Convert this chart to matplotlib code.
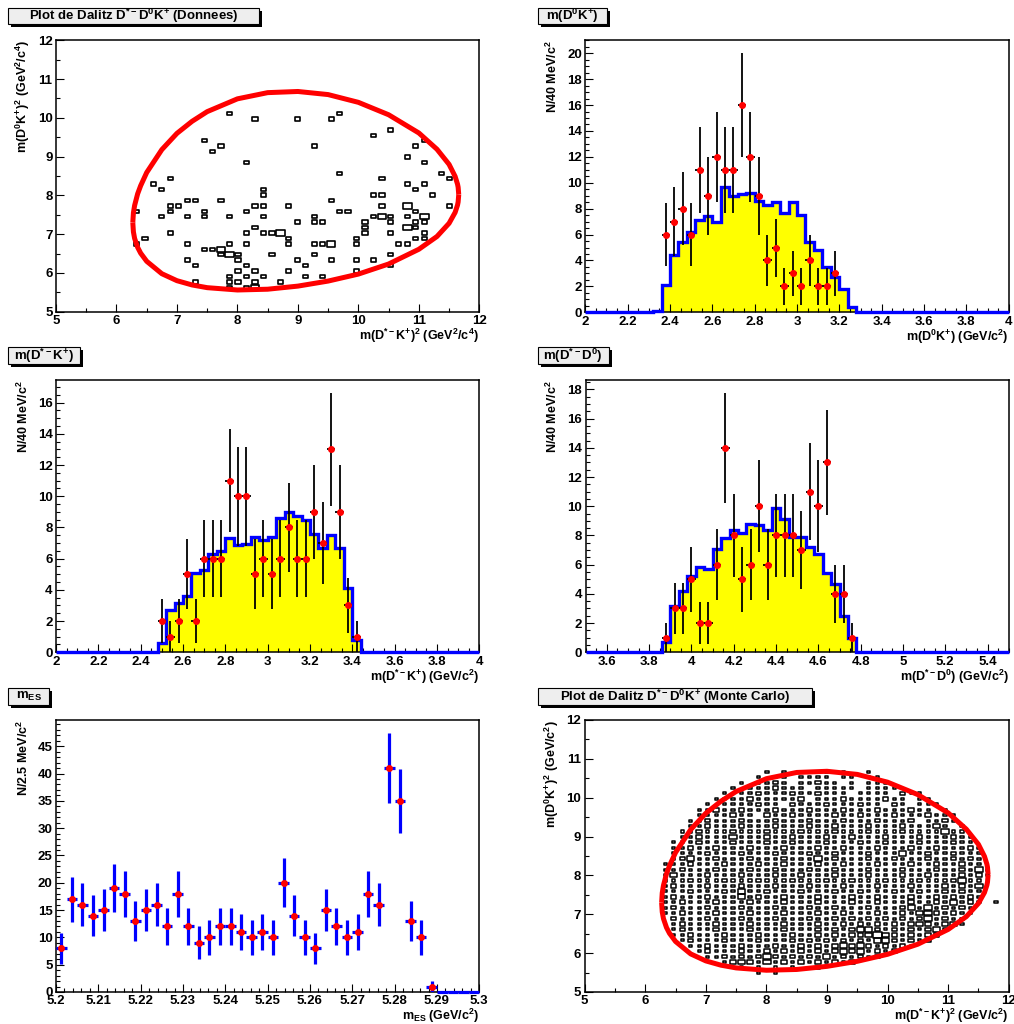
import numpy as np
import matplotlib
matplotlib.use('Agg')
import matplotlib.pyplot as plt
from matplotlib.patches import Rectangle
from matplotlib.collections import PatchCollection
from matplotlib.ticker import MultipleLocator, FuncFormatter

plt.rcParams['font.family'] = ['Liberation Sans', 'DejaVu Sans']
plt.rcParams['font.weight'] = 'bold'
plt.rcParams['mathtext.fontset'] = 'custom'
plt.rcParams['mathtext.rm'] = 'Liberation Sans:bold'
plt.rcParams['mathtext.it'] = 'Liberation Sans:bold'
plt.rcParams['mathtext.bf'] = 'Liberation Sans:bold'
plt.rcParams['mathtext.default'] = 'rm'

# ---- Dalitz boundary (m(D*-K+)^2, upper / lower m(D0K+)^2)
bnd_x = [6.27, 6.28, 6.30, 6.35, 6.40, 6.50, 6.75, 7.0, 7.25, 7.5, 8.0, 8.5, 9.0,
         9.5, 10.0, 10.5, 11.0, 11.3, 11.5, 11.6, 11.64, 11.65, 11.66]
bnd_top = [7.30, 7.55, 7.74, 8.04, 8.25, 8.59, 9.18, 9.60, 9.91, 10.16, 10.49, 10.65, 10.68,
           10.60, 10.40, 10.08, 9.61, 9.19, 8.80, 8.49, 8.29, 8.21, 8.02]
bnd_bot = [7.30, 7.06, 6.89, 6.66, 6.51, 6.30, 5.98, 5.80, 5.69, 5.62, 5.56, 5.58, 5.66,
           5.79, 5.97, 6.23, 6.61, 6.94, 7.28, 7.56, 7.75, 7.83, 8.02]

# ---- Dalitz data (bin centres, entries)
don_x = [7.87, 9.69,
         8.29, 8.99, 9.55,
         10.53, 10.25,
         7.45, 11.09,
         7.73, 9.27, 10.95,
         7.59, 10.81,
         8.15, 11.09,
         9.69, 11.37,
         6.89, 10.39, 11.51,
         6.61, 10.81, 11.09,
         6.75, 8.43, 10.95,
         8.43, 10.25, 10.39, 11.23,
         7.17, 7.31, 7.73, 9.55,
         6.89, 7.03, 8.29, 8.43, 8.85, 10.39, 10.81, 11.51,
         6.33, 6.89, 7.45, 8.15, 9.69, 9.83, 10.95,
         6.75, 7.17, 7.45, 7.87, 8.43, 9.27, 10.25, 10.39, 10.53, 10.81, 11.09,
         8.99, 9.27, 9.41, 10.11, 10.53, 10.95, 11.09,
         8.29, 10.11, 10.81, 10.95,
         6.89, 8.15, 8.43, 8.57, 8.71, 10.11, 10.53, 11.09,
         6.47, 8.85, 9.97, 10.95, 11.09,
         6.33, 7.17, 7.87, 8.15, 8.85, 9.27, 9.41, 9.55, 9.97, 10.67, 10.81,
         7.45, 7.59, 7.73,
         7.73, 7.87, 8.01, 8.57, 9.27, 10.53,
         7.17, 8.01, 8.99, 9.55, 9.97, 10.25,
         7.31, 8.15, 9.13, 10.53,
         8.01, 8.29, 8.85, 9.97,
         7.87, 8.15, 8.43, 9.13, 9.41,
         7.31, 7.87, 8.01, 8.29, 8.71,
         7.87, 8.15, 8.29]
don_y = ([10.11] * 2 + [9.97] * 3 + [9.69] + [9.55] + [9.41] * 2 + [9.27] * 3 + [9.13, 8.99]
         + [8.85] * 2 + [8.57] * 2 + [8.43] * 3 + [8.29] * 3 + [8.15] * 3 + [8.01] * 4
         + [7.87] * 4 + [7.73] * 8 + [7.59] * 7 + [7.45] * 11 + [7.31] * 7 + [7.17] * 4
         + [7.03] * 8 + [6.89] * 5 + [6.75] * 11 + [6.61] * 3 + [6.47] * 6 + [6.33] * 6
         + [6.19] * 4 + [6.05] * 4 + [5.91] * 5 + [5.77] * 5 + [5.63] * 3)
don_two = [(10.81, 7.73), (10.39, 7.45), (11.09, 7.45), (10.81, 7.17), (8.71, 7.03),
           (9.55, 6.75), (7.73, 6.61), (7.87, 6.47), (8.29, 5.63)]

# ---- Dalitz Monte Carlo: one string per row, one char per 0.14 bin ('.'=empty)
mc_y = [10.67, 10.53, 10.39, 10.25, 10.11, 9.97, 9.83, 9.69, 9.55, 9.41, 9.27, 9.13,
        8.99, 8.85, 8.71, 8.57, 8.43, 8.29, 8.15, 8.01, 7.87, 7.73, 7.59, 7.45, 7.31,
        7.17, 7.03, 6.89, 6.75, 6.61, 6.47, 6.33, 6.19, 6.05, 5.91, 5.77, 5.63, 5.49]
mc_x0 = [8.01, 7.87, 7.59, 7.45, 7.31, 7.17, 7.03, 6.89, 6.89, 6.75, 6.75, 6.61,
         6.61, 6.47, 6.47, 6.47, 6.47, 6.33, 6.33, 6.33, 6.33, 6.33, 6.33, 6.33, 6.33,
         6.33, 6.33, 6.47, 6.47, 6.47, 6.47, 6.61, 6.75, 6.89, 7.03, 7.31, 7.59, 7.87]
mc_cells = [
    "1.1..1.1.1..1",
    "1.11.1111.11.11",
    "1.1121.11211.1.111",
    "1.1112111.11111.1111",
    "1.1121112112111.1111.211",
    "11112111112.11121111211.11",
    "1.1111211.21112111211.21.111",
    "1121121112111211121112111211.1",
    "1111211.21121111211211121112111",
    "112111211121112111211121112.1121",
    "1121112111211121121112111211131.1",
    "1121112111211121112111211121111311",
    "11211131112112111211211121112111211",
    "111211121112112111211121121112111211",
    "1121121112111211121121112111211211121",
    "1111211121112111211211121113112112111",
    "1231121112111211131211121121112112121",
    "11121112111211211121121112111211211211",
    "112111211121121112112111211121112112131",
    "131112111211121121112111211121121112121",
    "11121112111211121112112111211121112311.",
    "12111211121112111211121112111211121213",
    "11121112131121112111211211121121121211",
    "12111211131211211121112112111211212121",
    "11211121112111211121112112111211213121.1",
    "1211121112111211121121112111231312121",
    "1121112111211121112112111211213321211",
    "21112111211121112112121212121231211",
    "12111211121112111211212121212321231",
    "121112111211121112121233212121231",
    "11211121112111211212122343212122",
    "121112111211121212121213321212",
    "112111211121121212323212121",
    "121112112121212123231212",
    "112121232121213121212",
    "1232131212121212",
    "1.1.1.1..1",
    "1.1"]

# ---- 1D histograms (0.04 GeV bins, 50 bins); data counts, MC expectation
dk0_mc_lo = 2.32
dk0_mc = [0.1, 2.1, 4.4, 5.4, 6.2, 7.1, 7.4, 7.0, 9.7, 9.0, 9.15, 9.2, 8.6, 8.3, 8.5,
          7.7, 8.5, 7.5, 5.4, 4.8, 3.5, 2.7, 1.8, 0.4]
dk0_data_lo = 2.36
dk0_data = [6, 7, 8, 6, 11, 9, 12, 11, 11, 16, 12, 9, 4, 5, 2, 3, 2, 4, 2, 2, 3]

dstk_mc_lo = 2.48
dstk_mc = [0.6, 2.7, 3.15, 3.6, 5.1, 5.3, 6.3, 6.5, 7.35, 6.9, 6.95, 7.4, 7.2, 7.4,
           8.6, 9.0, 8.75, 8.5, 7.6, 6.7, 7.5, 6.7, 4.1, 0.8]
dstk_data_lo = 2.48
dstk_data = [2, 1, 2, 5, 2, 6, 6, 6, 11, 10, 10, 5, 6, 5, 6, 8, 6, 6, 9, 7, 13, 9, 3, 1]

dd0_mc_lo = 3.86
dd0_mc = [0.7, 3.2, 4.2, 5.2, 5.85, 5.7, 7.1, 7.8, 8.35, 8.15, 8.8, 8.75, 8.4, 9.85,
          9.1, 7.9, 7.9, 7.2, 6.7, 5.4, 4.7, 2.5, 1.0]
dd0_data_lo = 3.86
dd0_data = [1, 3, 3, 5, 2, 2, 6, 14, 8, 5, 6, 10, 6, 8, 8, 8, 7, 11, 10, 13, 4, 4, 1]

# ---- mES (2.5 MeV bins from 5.20 to 5.30)
mes_counts = [8, 17, 16, 14, 15, 19, 18, 13, 15, 16, 12, 18, 12, 9, 10, 12, 12, 11, 10, 11,
              10, 20, 14, 10, 8, 15, 12, 10, 11, 18, 16, 41, 35, 13, 10, 1, 0, 0, 0, 0]

W, H = 1014, 1024
fig = plt.figure(figsize=(W / 100, H / 100), dpi=100)
fmt = FuncFormatter(lambda v, p: '%g' % round(v, 4))


def make_axes(l, t, r, b, xlim, ylim, xmaj, xmin, ymaj, ymin):
    ax = fig.add_axes([l / W, 1 - b / H, (r - l) / W, (b - t) / H])
    ax.set_xlim(*xlim)
    ax.set_ylim(*ylim)
    ax.xaxis.set_major_locator(MultipleLocator(xmaj))
    ax.xaxis.set_minor_locator(MultipleLocator(xmin))
    ax.yaxis.set_major_locator(MultipleLocator(ymaj))
    ax.yaxis.set_minor_locator(MultipleLocator(ymin))
    ax.xaxis.set_major_formatter(fmt)
    ax.yaxis.set_major_formatter(fmt)
    ax.tick_params(which='both', direction='in', top=False, right=False,
                   labelsize=9.5, width=0.8, pad=2.5)
    ax.tick_params(which='major', length=5.5)
    ax.tick_params(which='minor', length=2.8)
    for s in ax.spines.values():
        s.set_linewidth(1.1)
    ax._px = (r - l, b - t)
    return ax


def labels(ax, xl, yl):
    w, h = ax._px
    ax.text(1.0, -15 / h, xl, transform=ax.transAxes, ha='right', va='top', fontsize=9)
    ax.text(-33 / w, 1.0, yl, transform=ax.transAxes, ha='center', va='top',
            rotation=90, fontsize=9)


def title_box(l, t, r, b, txt):
    fig.patches.append(Rectangle(((l + 3) / W, 1 - (b + 3) / H), (r - l) / W, (b - t) / H,
                                 transform=fig.transFigure, fc='black', ec='none'))
    fig.patches.append(Rectangle((l / W, 1 - b / H), (r - l) / W, (b - t) / H,
                                 transform=fig.transFigure, fc='#eeeeee', ec='black', lw=0.8))
    fig.text((l + r) / 2 / W, 1 - (t + b) / 2 / H, txt, ha='center', va='center', fontsize=9.5)


def boxes(ax, xs, ys, fr, lw):
    rects = [Rectangle((x - f * 0.07, y - f * 0.07), f * 0.14, f * 0.14)
             for x, y, f in zip(xs, ys, fr)]
    ax.add_collection(PatchCollection(rects, facecolor='none', edgecolor='black',
                                      linewidth=lw, zorder=2))


def boundary(ax):
    ax.plot(bnd_x, bnd_top, color='#ff0000', lw=3.6, zorder=3, solid_capstyle='butt')
    ax.plot(bnd_x, bnd_bot, color='#ff0000', lw=3.6, zorder=3, solid_capstyle='butt')


def hist_panel(ax, lo, mc_lo, mc_vals, d_lo, d_vals):
    edges = np.linspace(lo, lo + 2.0, 51)
    mc = np.zeros(50)
    k = int(round((mc_lo - lo) / 0.04))
    mc[k:k + len(mc_vals)] = mc_vals
    ax.stairs(mc, edges, fill=True, color='#ffff00', zorder=1)
    ax.stairs(mc, edges, color='#0000ff', lw=2.4, zorder=3, clip_on=False)
    centers = 0.5 * (edges[:-1] + edges[1:])
    k = int(round((d_lo - lo) / 0.04))
    x = centers[k:k + len(d_vals)]
    y = np.array(d_vals, dtype=float)
    ax.errorbar(x, y, yerr=np.sqrt(y), xerr=0.02, fmt='o', ms=4, mfc='#ff0000', mec='#ff0000',
                ecolor='black', elinewidth=1.3, capsize=0, zorder=4)


# Panel 1: Dalitz data
ax1 = make_axes(56, 40.3, 479.3, 311.7, (5, 12), (5, 12), 1, 0.5, 1, 0.5)
two = set(don_two)
boxes(ax1, don_x, don_y, [1.0 if (x, y) in two else 0.62 for x, y in zip(don_x, don_y)], 1.2)
boundary(ax1)
labels(ax1, r'm(D$^{*-}$K$^{+}$)$^{2}$ (GeV$^{2}$/c$^{4}$)', r'm(D$^{0}$K$^{+}$)$^{2}$ (GeV$^{2}$/c$^{4}$)')
title_box(8.3, 7.7, 259.3, 24.3, r'Plot de Dalitz D$^{*-}$D$^{0}$K$^{+}$ (Donnees)')

# Panel 2: m(D0K+)
ax2 = make_axes(585.3, 40.3, 1008.7, 312.3, (2, 4), (0, 21), 0.2, 0.05, 2, 0.5)
hist_panel(ax2, 2.0, dk0_mc_lo, dk0_mc, dk0_data_lo, dk0_data)
labels(ax2, r'm(D$^{0}$K$^{+}$) (GeV/c$^{2}$)', r'N/40 MeV/c$^{2}$')
title_box(537.7, 7.7, 607, 24.3, r'm(D$^{0}$K$^{+}$)')

# Panel 3: m(D*-K+)
ax3 = make_axes(56, 380.3, 479.3, 652.3, (2, 4), (0, 17.43), 0.2, 0.05, 2, 0.5)
hist_panel(ax3, 2.0, dstk_mc_lo, dstk_mc, dstk_data_lo, dstk_data)
labels(ax3, r'm(D$^{*-}$K$^{+}$) (GeV/c$^{2}$)', r'N/40 MeV/c$^{2}$')
title_box(8.3, 347.3, 80, 364.3, r'm(D$^{*-}$K$^{+}$)')

# Panel 4: m(D*-D0)
ax4 = make_axes(585.7, 380.3, 1008.7, 652.3, (3.5, 5.5), (0, 18.63), 0.2, 0.05, 2, 0.5)
hist_panel(ax4, 3.5, dd0_mc_lo, dd0_mc, dd0_data_lo, dd0_data)
labels(ax4, r'm(D$^{*-}$D$^{0}$) (GeV/c$^{2}$)', r'N/40 MeV/c$^{2}$')
title_box(537.7, 347.3, 608.7, 364.3, r'm(D$^{*-}$D$^{0}$)')

# Panel 5: mES
ax5 = make_axes(56, 720, 479.3, 992, (5.2, 5.3), (0, 49.8), 0.01, 0.002, 5, 1)
mes_edges = np.linspace(5.2, 5.3, 41)
mes_x = 0.5 * (mes_edges[:-1] + mes_edges[1:])
mes_y = np.array(mes_counts, dtype=float)
nz = mes_y > 0
ax5.errorbar(mes_x[nz], mes_y[nz], yerr=np.sqrt(mes_y[nz]), xerr=0.00125, fmt='o', ms=4,
             mfc='#ff0000', mec='#ff0000', ecolor='#0000ff', elinewidth=2.3, capsize=0, zorder=4)
ax5.errorbar(mes_x[~nz], mes_y[~nz], xerr=0.00125, fmt='none', ecolor='#0000ff',
             elinewidth=2.3, capsize=0, zorder=4, clip_on=False)
labels(ax5, r'm$_{ES}$ (GeV/c$^{2}$)', r'N/2.5 MeV/c$^{2}$')
title_box(8, 688.3, 49.3, 705, r'm$_{ES}$')

# Panel 6: Dalitz Monte Carlo
ax6 = make_axes(584.7, 720, 1008.7, 992, (5, 12), (5, 12), 1, 0.5, 1, 0.5)
size_of = {'1': 0.38, '2': 0.64, '3': 0.86, '4': 1.0}
mx, my, mf = [], [], []
for y, x0, row in zip(mc_y, mc_x0, mc_cells):
    for n, c in enumerate(row):
        if c in size_of:
            mx.append(x0 + 0.14 * n)
            my.append(y)
            mf.append(size_of[c])
boxes(ax6, mx, my, mf, 1.1)
boundary(ax6)
labels(ax6, r'm(D$^{*-}$K$^{+}$)$^{2}$ (GeV/c$^{2}$)', r'm(D$^{0}$K$^{+}$)$^{2}$ (GeV/c$^{2}$)')
title_box(537.7, 688.3, 812, 705, r'Plot de Dalitz D$^{*-}$D$^{0}$K$^{+}$ (Monte Carlo)')

fig.savefig('out.png', dpi=100, facecolor='white')
